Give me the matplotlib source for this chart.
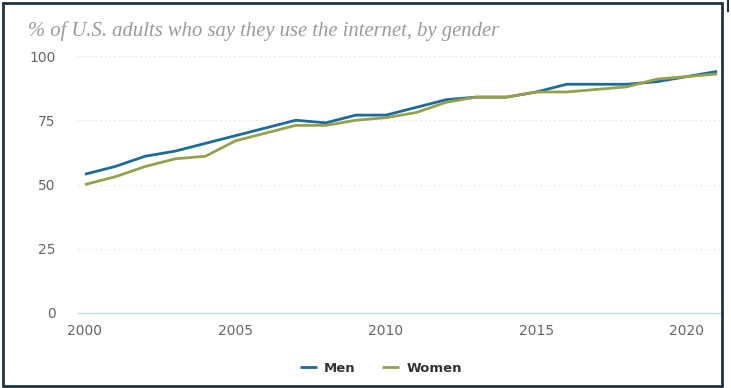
import matplotlib
matplotlib.use("Agg")
import matplotlib.pyplot as plt
from matplotlib.patches import Rectangle
from matplotlib.lines import Line2D

#### Data ####

years = list(range(2000, 2022))

men = [54, 57, 61, 63, 66, 69, 72, 75, 74, 77, 77, 80, 83, 84, 84, 86, 89, 89, 89, 90, 92, 94]
women = [50, 53, 57, 60, 61, 67, 70, 73, 73, 75, 76, 78, 82, 84, 84, 86, 86, 87, 88, 91, 92, 93]

x_ticks = [2000, 2005, 2010, 2015, 2020]
y_ticks = [0, 25, 50, 75, 100]

title = "% of U.S. adults who say they use the internet, by gender"

men_color = "#1b6c9c"
women_color = "#97a04a"

##############

W, H = 731, 388
fig = plt.figure(figsize=(W / 100, H / 100), dpi=100)
ax = fig.add_axes([78 / W, 1 - 313 / H, (721 - 78) / W, (313 - 56) / H])

ax.plot(years, men, color=men_color, lw=2, label="Men", solid_capstyle="butt")
ax.plot(years, women, color=women_color, lw=2, label="Women", solid_capstyle="butt")

x0 = 2000 - 7 / 30.1
ax.set_xlim(x0, x0 + (721 - 78) / 30.1)
ax.set_ylim(0, 100)
ax.set_xticks(x_ticks)
ax.set_yticks(y_ticks)

for s in ["top", "right", "left"]:
    ax.spines[s].set_visible(False)
ax.spines["bottom"].set_color("#ccd6eb")
ax.spines["bottom"].set_linewidth(1)

ax.grid(axis="y", color="#dddddd", linestyle=(0, (1, 3)), lw=0.8)
ax.set_axisbelow(True)
ax.tick_params(axis="both", length=0, labelsize=10, labelcolor="#666666")
ax.tick_params(axis="y", pad=16)
ax.tick_params(axis="x", pad=8)
for lab in ax.get_yticklabels():
    lab.set_horizontalalignment("right")

fig.text(28 / W, 1 - 31 / H, title, fontsize=14.9, style="italic",
         family="Liberation Serif", color="#9a9a9a", va="center", ha="left")

leg = fig.legend(loc="center", bbox_to_anchor=(381 / W, 1 - 368 / H), ncol=2,
                 frameon=False, handlelength=1.3, columnspacing=2.0,
                 handletextpad=0.55, prop={"weight": "bold", "size": 9.5})
for t in leg.get_texts():
    t.set_color("#333333")

# dark frame of the screenshot
fig.patches.append(Rectangle((2.5 / W, 2.5 / H), (722 - 2.5) / W, (385.5 - 2.5) / H,
                             transform=fig.transFigure, fill=False,
                             edgecolor="#1f3344", lw=2.0))
fig.lines.append(Line2D([728 / W, 728 / W], [1, 1 - 11 / H], transform=fig.transFigure,
                        color="#1f3344", lw=1.5))

fig.savefig("out.png", dpi=100)
